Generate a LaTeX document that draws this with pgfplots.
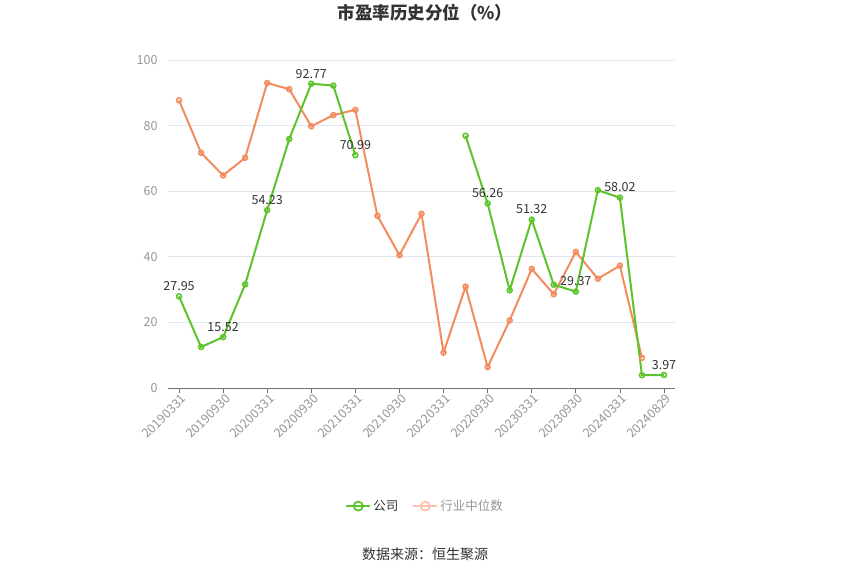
\documentclass[border=0pt]{standalone}
\usepackage{fontspec}
\setmainfont{Noto Sans CJK SC}
\usepackage{pgfplots}
\usepackage{pgfplotstable}
\pgfplotsset{compat=1.18}

\definecolor{gs}{RGB}{92,196,42}
\definecolor{os}{RGB}{242,140,95}
\definecolor{osl}{RGB}{250,196,176}
\definecolor{gridc}{RGB}{224,230,241}
\definecolor{axc}{RGB}{110,112,121}
\definecolor{tickc}{RGB}{150,150,150}
\definecolor{txt}{RGB}{51,51,51}

% index, company, industry median
\pgfplotstableread{
x  comp   ind
0  27.95  87.7
1  12.5   71.7
2  15.52  64.8
3  31.6   70.2
4  54.23  93.0
5  75.9   91.1
6  92.77  79.8
7  92.2   83.2
8  70.99  84.8
9  nan    52.5
10 nan    40.5
11 nan    53.1
12 nan    10.8
13 76.9   30.9
14 56.26  6.4
15 29.8   20.6
16 51.32  36.3
17 31.5   28.6
18 29.37  41.5
19 60.3   33.3
20 58.02  37.3
21 3.9    9.2
22 3.97   nan
}\pedata

% labelled points of the company series
\pgfplotstableread{
x  comp
0  27.95
2  15.52
4  54.23
6  92.77
8  70.99
14 56.26
16 51.32
18 29.37
20 58.02
22 3.97
}\pelab

\begin{document}
\begin{tikzpicture}[x=1pt,y=1pt]
\path[use as bounding box] (0,0) rectangle (850,575);
\begin{axis}[
    at={(168pt,187pt)}, anchor=south west,
    scale only axis, width=507pt, height=328pt,
    xmin=-0.5, xmax=22.5, ymin=0, ymax=100,
    ytick={0,20,...,100},
    xtick={0,2,...,22},
    xticklabels={20190331,20190930,20200331,20200930,20210331,20210930,20220331,20220930,20230331,20230930,20240331,20240829},
    xticklabel style={rotate=45, anchor=north east, font=\fontsize{12.5}{12.5}\selectfont, text=tickc, inner sep=1pt, xshift=2pt},
    yticklabel style={font=\fontsize{12.5}{12.5}\selectfont, text=tickc, xshift=-2pt},
    /pgf/number format/assume math mode=true,
    axis x line*=bottom, axis y line*=left,
    x axis line style={draw=axc, -},
    y axis line style={draw=none},
    ymajorgrids, grid style={draw=gridc, line width=0.8pt},
    major x tick style={draw=axc, line width=0.8pt},
    major tick length=5pt, tick align=outside,
    ytick style={draw=none},
    unbounded coords=jump,
    clip=false,
    legend style={at={(0.507,-0.36)}, anchor=center, draw=none, fill=none,
        legend columns=2, font=\fontsize{12.5}{12.5}\selectfont,
        /tikz/every even column/.append style={column sep=12pt}},
    legend cell align=left,
    legend image code/.code={\draw[mark repeat=2, mark phase=2, #1]
        plot coordinates {(0pt,0pt) (12pt,0pt) (24pt,0pt)};},
]
\addplot[os, line width=2pt, mark=o, mark size=2.5pt,
    mark options={fill=white, line width=1.5pt}, forget plot] table[x=x, y=ind] {\pedata};
\addplot[gs, line width=2pt, mark=o, mark size=2.5pt,
    mark options={fill=white, line width=1.5pt}, forget plot] table[x=x, y=comp] {\pedata};
\addplot[draw=none, mark=none, forget plot,
    nodes near coords, point meta=explicit symbolic,
    nodes near coords style={font=\fontsize{12.5}{12.5}\selectfont, text=txt, anchor=south, yshift=2pt}]
    table[x=x, y=comp, meta=comp] {\pelab};
\addlegendimage{gs, line width=2pt, mark=o, mark size=4.5pt, mark options={fill=white, line width=1.8pt}}
\addlegendentry{\textcolor{txt}{公司}}
\addlegendimage{osl, line width=2pt, mark=o, mark size=4.5pt, mark options={fill=white, line width=1.8pt}}
\addlegendentry{\textcolor{tickc}{行业中位数}}
\end{axis}
\node[font=\bfseries\fontsize{17.5}{17.5}\selectfont, text=txt] at (425,562) {市盈率历史分位（\%）};
\node[font=\fontsize{14}{14}\selectfont, text=txt] at (425,21) {数据来源：恒生聚源};
\end{tikzpicture}
\end{document}
